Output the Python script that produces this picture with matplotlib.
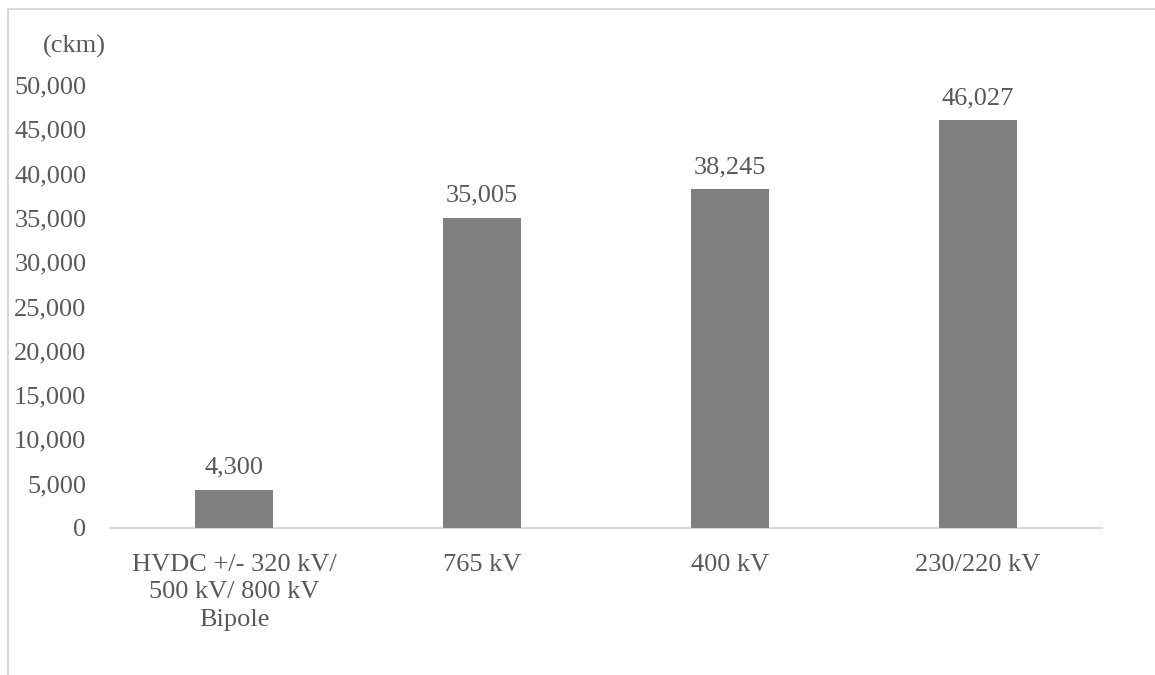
import matplotlib
matplotlib.use("Agg")

import matplotlib.pyplot as plt
from matplotlib.lines import Line2D

categories = ["HVDC +/- 320 kV/\n500 kV/ 800 kV\nBipole", "765 kV", "400 kV", "230/220 kV"]
values = [4300, 35005, 38245, 46027]
y_ticks = list(range(0, 50001, 5000))

W, H = 1155, 675
TXT = "#595959"
BAR = "#7f7f7f"
LINE = "#d9d9d9"
FS = 19

plt.rcParams["font.family"] = ["Liberation Serif", "DejaVu Serif"]

fig = plt.figure(figsize=(W / 100, H / 100), dpi=100)

# axes placed in pixel terms: x 110..1102, y(0)=528, y(50000)=85
ax = fig.add_axes([110 / W, (H - 528) / H, (1102 - 110) / W, (528 - 85) / H])

x = range(len(categories))
ax.bar(x, values, width=0.315, color=BAR, zorder=3)
for xi, v in zip(x, values):
    ax.annotate(f"{v:,}", xy=(xi, v), xytext=(0, 8), textcoords="offset points",
                ha="center", va="bottom", fontsize=FS, color=TXT)

ax.set_xlim(-0.5, len(categories) - 0.5)
ax.set_ylim(0, 50000)
ax.set_yticks(y_ticks)
ax.set_yticklabels([f"{t:,}" for t in y_ticks], fontsize=FS, color=TXT)
ax.set_xticks(list(x))
ax.set_xticklabels(categories, fontsize=FS, color=TXT, linespacing=1.3)
ax.tick_params(axis="both", length=0)
ax.tick_params(axis="y", pad=17)
ax.tick_params(axis="x", pad=19)

for s in ["top", "right", "left"]:
    ax.spines[s].set_visible(False)
ax.spines["bottom"].set_color(LINE)
ax.spines["bottom"].set_linewidth(1.5)

fig.text(74 / W, 1 - 46 / H, "(ckm)", ha="center", va="center", fontsize=FS, color=TXT)

# chart-area frame (top and left edges visible in the crop)
fig.add_artist(Line2D([8 / W, 1.0], [1 - 9 / H, 1 - 9 / H], color=LINE, lw=1.5,
                      transform=fig.transFigure))
fig.add_artist(Line2D([8 / W, 8 / W], [0.0, 1 - 9 / H], color=LINE, lw=1.5,
                      transform=fig.transFigure))

fig.savefig("out.png", dpi=100)
